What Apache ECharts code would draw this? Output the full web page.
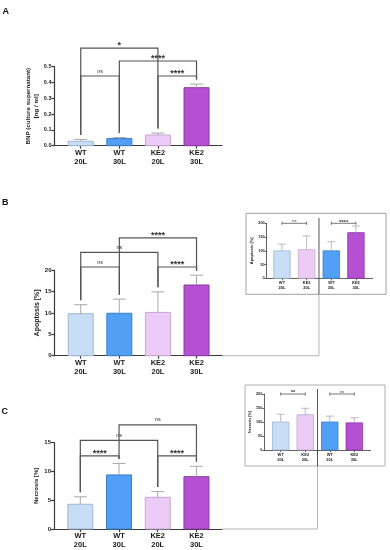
<!DOCTYPE html>
<html><head><meta charset="utf-8">
<script src="https://cdn.jsdelivr.net/npm/echarts@6/dist/echarts.min.js"></script>
<style>html,body{margin:0;padding:0;background:#fff}#c{width:390px;height:550px}</style>
</head><body><div id="c"></div>
<script>
// ---------- data ----------
const groups = ['WT\n20L', 'WT\n30L', 'KE2\n20L', 'KE2\n30L'];
const bnpMean = [0.028, 0.045, 0.068, 0.367];
const bnpErr = [0.012, 0.007, 0.012, 0.023];
const apoMean = [9.8, 9.9, 10.1, 16.5];
const apoErr = [2.1, 3.3, 4.8, 2.3];
const necMean = [4.3, 9.4, 5.5, 9.1];
const necErr = [1.3, 2.0, 1.0, 1.8];
const insetGroups = ['WT\n20L', 'KE2\n20L', 'WT\n30L', 'KE2\n30L'];
const apoRelMean = [100, 104, 100, 166];
const apoRelErr = [24, 50, 33, 24];
const necRelMean = [100, 126, 100, 97];
const necRelErr = [28, 23, 21, 18];
// significance brackets: [from group, to group, bracket level (data units)]
const bnpSig = [[0, 2, 0.618], [1, 3, 0.536], [0, 1, 0.441], [2, 3, 0.441]];
const bnpSigText = ['*', '****', 'ns', '****'];
const apoSig = [[1, 3, 27.5], [0, 2, 24.1], [0, 1, 20.7], [2, 3, 20.7]];
const apoSigText = ['****', 'ns', 'ns', '****'];
const necSig = [[1, 3, 18.1], [0, 2, 15.4], [0, 1, 12.7], [2, 3, 12.7]];
const necSigText = ['ns', 'ns', '****', '****'];
const apoRelSig = [[0, 1, 200], [2, 3, 200]];
const apoRelSigText = ['ns', '****'];
const necRelSig = [[0, 1, 200], [2, 3, 200]];
const necRelSigText = ['**', 'ns'];

// ---------- styles ----------
const FONT = '"Liberation Sans", Arial, sans-serif';
const mainFill = ['#c8ddf6', '#529ff6', '#ecccf6', '#b550d3'];
const mainBorder = ['#9fb6d2', '#3b7dcb', '#c5a6d0', '#8a38a4'];
const insetFill = [mainFill[0], mainFill[2], mainFill[1], mainFill[3]];
const insetBorder = [mainBorder[0], mainBorder[2], mainBorder[1], mainBorder[3]];
const AX = '#3a3a3a';

const chart = echarts.init(document.getElementById('c'), null, {renderer: 'canvas'});

function xAx(gi, min, max, labels, fs, lh, lw, tl) {
  return {
    type: 'value', gridIndex: gi, min: min, max: max,
    axisLine: {show: true, onZero: false, lineStyle: {color: AX, width: lw}},
    axisTick: {show: true, customValues: [0, 1, 2, 3], length: tl, lineStyle: {color: AX, width: lw}},
    axisLabel: {customValues: [0, 1, 2, 3], formatter: v => labels[Math.round(v)],
      fontSize: fs, lineHeight: lh, fontWeight: 'bold', color: '#1a1a1a', fontFamily: FONT, margin: tl > 2 ? 3 : 2},
    splitLine: {show: false}, minorTick: {show: false}
  };
}
function yAx(gi, max, interval, fs, fmt, name, nfs, nlh, ngap, lw, tl) {
  return {
    type: 'value', gridIndex: gi, min: 0, max: max, interval: interval,
    axisLine: {show: true, onZero: false, lineStyle: {color: AX, width: lw}},
    axisTick: {show: true, length: tl, lineStyle: {color: AX, width: lw}},
    axisLabel: {fontSize: fs, fontWeight: 'bold', color: '#1a1a1a', fontFamily: FONT, margin: tl > 2 ? 3 : 2, formatter: fmt},
    splitLine: {show: false},
    name: name, nameLocation: 'middle', nameGap: ngap,
    nameTextStyle: {fontSize: nfs, lineHeight: nlh, fontWeight: 'bold', color: '#1a1a1a', fontFamily: FONT}
  };
}
function bars(ax, means, fills, borders, w, bw) {
  return {
    type: 'custom', xAxisIndex: ax, yAxisIndex: ax, z: 2,
    data: means.map((v, i) => [i, v]), encode: {x: 0, y: 1},
    renderItem: (p, api) => {
      const i = api.value(0), v = api.value(1);
      const a = api.coord([i, 0]), b = api.coord([i, v]);
      return {type: 'rect', shape: {x: a[0] - w / 2, y: b[1], width: w, height: a[1] - b[1]},
        style: {fill: fills[i], stroke: borders[i], lineWidth: bw}};
    }
  };
}
function errs(ax, means, errsArr, cap, lw) {
  return {
    type: 'custom', xAxisIndex: ax, yAxisIndex: ax, z: 3,
    data: means.map((v, i) => [i, v, errsArr[i]]), encode: {x: 0, y: 1},
    renderItem: (p, api) => {
      const i = api.value(0), v = api.value(1), e = api.value(2);
      const a = api.coord([i, v]), b = api.coord([i, v + e]);
      return {type: 'group', children: [
        {type: 'line', shape: {x1: a[0], y1: a[1], x2: b[0], y2: b[1]}, style: {stroke: '#a9a9a9', lineWidth: lw}},
        {type: 'line', shape: {x1: b[0] - cap / 2, y1: b[1], x2: b[0] + cap / 2, y2: b[1]}, style: {stroke: '#a9a9a9', lineWidth: lw}}
      ]};
    }
  };
}
function sigMain(ax, sig, texts, means, errsArr) {
  return {
    type: 'custom', xAxisIndex: ax, yAxisIndex: ax, z: 4, clip: false,
    data: sig, encode: {x: [0, 1], y: 2},
    renderItem: (p, api) => {
      const ia = api.value(0), ib = api.value(1), lev = api.value(2);
      const pa = api.coord([ia, lev]), pb = api.coord([ib, lev]);
      const ea = api.coord([ia, means[ia] + errsArr[ia]])[1] - 4.5;
      const eb = api.coord([ib, means[ib] + errsArr[ib]])[1] - 4.5;
      const t = texts[p.dataIndex];
      const star = t !== 'ns';
      return {type: 'group', children: [
        {type: 'polyline', shape: {points: [[pa[0], ea], [pa[0], pa[1]], [pb[0], pb[1]], [pb[0], eb]]},
          style: {stroke: '#555', lineWidth: 1.2, fill: null}},
        {type: 'text', x: (pa[0] + pb[0]) / 2, y: pa[1] - (star ? 2.4 : 5),
          style: {text: t, align: 'center', verticalAlign: 'middle', fill: '#333',
            font: (star ? 'bold 9px ' : '5.5px ') + FONT}}
      ]};
    }
  };
}
function sigInset(ax, sig, texts) {
  return {
    type: 'custom', xAxisIndex: ax, yAxisIndex: ax, z: 4, clip: false,
    data: sig, encode: {x: [0, 1], y: 2},
    renderItem: (p, api) => {
      const ia = api.value(0), ib = api.value(1), lev = api.value(2);
      const pa = api.coord([ia, lev]), pb = api.coord([ib, lev]);
      const t = texts[p.dataIndex];
      const star = t !== 'ns';
      return {type: 'group', children: [
        {type: 'line', shape: {x1: pa[0], y1: pa[1], x2: pb[0], y2: pb[1]}, style: {stroke: '#555', lineWidth: 0.8}},
        {type: 'line', shape: {x1: pa[0], y1: pa[1] - 1.6, x2: pa[0], y2: pa[1] + 1.6}, style: {stroke: '#555', lineWidth: 0.8}},
        {type: 'line', shape: {x1: pb[0], y1: pb[1] - 1.6, x2: pb[0], y2: pb[1] + 1.6}, style: {stroke: '#555', lineWidth: 0.8}},
        {type: 'text', x: (pa[0] + pb[0]) / 2, y: pa[1] - (star ? 1.2 : 2.6),
          style: {text: t, align: 'center', verticalAlign: 'middle', fill: '#333',
            font: (star ? 'bold 6px ' : '4px ') + FONT}}
      ]};
    }
  };
}

const option = {
  animation: false,
  backgroundColor: '#fff',
  grid: [
    {left: 54.5, top: 66.7, width: 167.5, height: 79},
    {left: 54.5, top: 270, width: 167.5, height: 85.7},
    {left: 266.7, top: 223.3, width: 106, height: 55},
    {left: 54, top: 442.7, width: 168, height: 86.3},
    {left: 264.3, top: 394, width: 106.4, height: 56}
  ],
  xAxis: [
    xAx(0, -0.68, 3.66, groups, 7.5, 8.5, 1.2, 3),
    xAx(1, -0.68, 3.66, groups, 7.5, 8.5, 1.2, 3),
    xAx(2, -0.62, 3.68, insetGroups, 4, 5, 0.8, 2),
    xAx(3, -0.68, 3.66, groups, 7.5, 8.5, 1.2, 3),
    xAx(4, -0.67, 3.67, insetGroups, 4, 5, 0.8, 2)
  ],
  yAxis: [
    yAx(0, 0.5, 0.1, 5.5, v => v.toFixed(1), 'BNP (culture supernatant)\n[ng / ml]', 6.2, 8, 11, 1.2, 3),
    yAx(1, 20, 5, 6, null, 'Apoptosis [%]', 7, 8, 13, 1.2, 3),
    yAx(2, 200, 50, 3.8, null, 'Apoptosis [%]', 4, 5, 9, 0.8, 2),
    yAx(3, 15, 5, 6, null, 'Necrosis [%]', 6, 8, 13, 1.2, 3),
    yAx(4, 200, 50, 3.8, null, 'Necrosis [%]', 3.6, 5, 9, 0.8, 2)
  ],
  series: [
    bars(0, bnpMean, mainFill, mainBorder, 25, 1), errs(0, bnpMean, bnpErr, 13, 1), sigMain(0, bnpSig, bnpSigText, bnpMean, bnpErr),
    bars(1, apoMean, mainFill, mainBorder, 25, 1), errs(1, apoMean, apoErr, 13, 1), sigMain(1, apoSig, apoSigText, apoMean, apoErr),
    bars(2, apoRelMean, insetFill, insetBorder, 16.5, 0.8), errs(2, apoRelMean, apoRelErr, 8, 0.8), sigInset(2, apoRelSig, apoRelSigText),
    bars(3, necMean, mainFill, mainBorder, 25, 1), errs(3, necMean, necErr, 13, 1), sigMain(3, necSig, necSigText, necMean, necErr),
    bars(4, necRelMean, insetFill, insetBorder, 16.5, 0.8), errs(4, necRelMean, necRelErr, 8, 0.8), sigInset(4, necRelSig, necRelSigText)
  ]
};
chart.setOption(option);

// ---------- decorations: panel letters, inset frames, connectors ----------
const dB = chart.convertToPixel({xAxisIndex: 2}, 1.5);
const dC = chart.convertToPixel({xAxisIndex: 4}, 1.5);
const endB = chart.convertToPixel({xAxisIndex: 1}, 3.66);
const endC = chart.convertToPixel({xAxisIndex: 3}, 3.66);
const baseB = chart.convertToPixel({yAxisIndex: 1}, 0);
const baseC = chart.convertToPixel({yAxisIndex: 3}, 0);
const letter = (t, x, y) => ({type: 'text', x: x, y: y, style: {text: t, font: 'bold 9px ' + FONT, fill: '#111', verticalAlign: 'middle'}});
chart.setOption({
  graphic: [
    letter('A', 2.5, 12), letter('B', 2, 203), letter('C', 1.5, 412),
    {type: 'rect', shape: {x: 246, y: 213.3, width: 140, height: 81}, style: {fill: 'none', stroke: '#a0a0a0', lineWidth: 1}, z: 0},
    {type: 'rect', shape: {x: 245, y: 385, width: 140, height: 81}, style: {fill: 'none', stroke: '#b0b0b0', lineWidth: 1}, z: 0},
    {type: 'polyline', shape: {points: [[endB, baseB], [dB, baseB], [dB, 294.3]]}, style: {stroke: '#b4b4b4', lineWidth: 1, fill: null}},
    {type: 'line', shape: {x1: dB, y1: 218, x2: dB, y2: 294.3}, style: {stroke: '#555', lineWidth: 1}},
    {type: 'polyline', shape: {points: [[endC, baseC], [dC, baseC], [dC, 466]]}, style: {stroke: '#b4b4b4', lineWidth: 1, fill: null}},
    {type: 'line', shape: {x1: dC, y1: 389, x2: dC, y2: 466}, style: {stroke: '#555', lineWidth: 1}}
  ]
});
</script>
</body></html>
